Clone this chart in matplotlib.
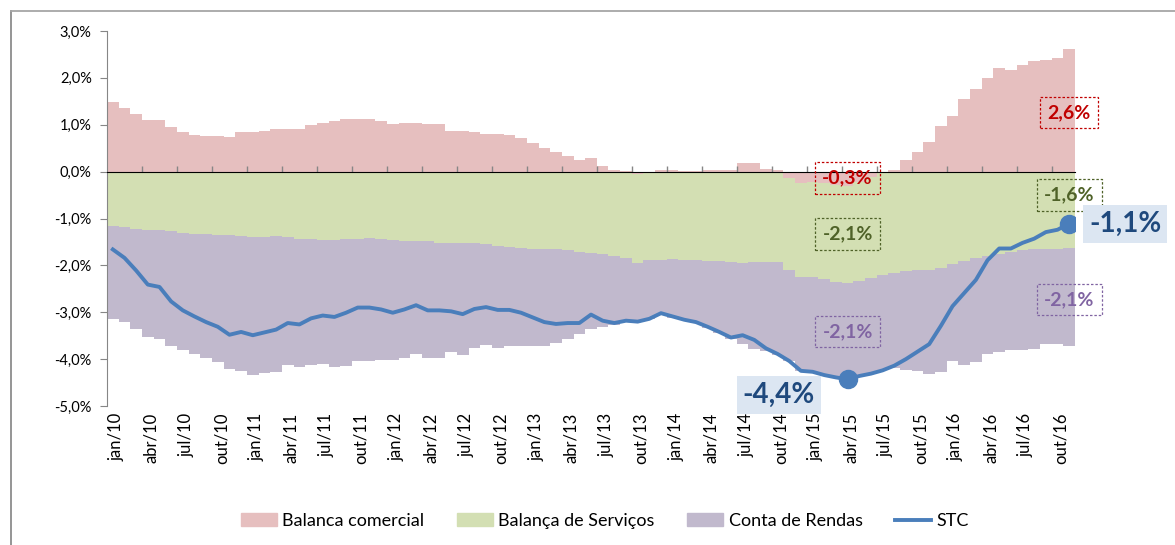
import numpy as np
import matplotlib
matplotlib.use('Agg')
import matplotlib.pyplot as plt
from matplotlib.patches import Patch
from matplotlib.lines import Line2D

# monthly, jan/10 .. nov/16, % of GDP
meses = ['jan', 'fev', 'mar', 'abr', 'mai', 'jun', 'jul', 'ago', 'set', 'out', 'nov', 'dez']
n_meses = 83

balanca_comercial = [
    1.48, 1.36, 1.24, 1.11, 1.11, 0.96, 0.84, 0.79, 0.76, 0.76, 0.73, 0.84,
    0.84, 0.87, 0.90, 0.90, 0.90, 0.99, 1.04, 1.07, 1.13, 1.13, 1.13, 1.07,
    1.01, 1.04, 1.04, 1.01, 1.01, 0.87, 0.87, 0.84, 0.81, 0.81, 0.78, 0.72,
    0.61, 0.50, 0.41, 0.33, 0.24, 0.30, 0.13, 0.04, 0.01, -0.04, 0.00, 0.04,
    0.04, 0.01, 0.01, 0.03, 0.03, 0.03, 0.19, 0.19, 0.06, 0.03, -0.13, -0.25,
    -0.22, -0.25, -0.28, -0.30, -0.22, -0.12, 0.00, 0.04, 0.24, 0.41, 0.63, 0.98,
    1.18, 1.54, 1.76, 1.99, 2.21, 2.16, 2.28, 2.36, 2.39, 2.43, 2.62]

balanca_servicos = [
    -1.17, -1.19, -1.22, -1.24, -1.25, -1.27, -1.30, -1.32, -1.33, -1.35, -1.36, -1.38,
    -1.40, -1.40, -1.38, -1.40, -1.43, -1.43, -1.45, -1.46, -1.44, -1.44, -1.41, -1.44,
    -1.46, -1.48, -1.49, -1.49, -1.52, -1.52, -1.52, -1.52, -1.54, -1.58, -1.60, -1.63,
    -1.64, -1.66, -1.66, -1.68, -1.71, -1.73, -1.76, -1.79, -1.84, -1.91, -1.89, -1.89,
    -1.86, -1.89, -1.89, -1.90, -1.90, -1.93, -1.95, -1.93, -1.93, -1.93, -1.96, -1.99,
    -2.02, -2.04, -2.08, -2.08, -2.11, -2.14, -2.20, -2.16, -2.13, -2.10, -2.09, -2.05,
    -1.96, -1.91, -1.84, -1.79, -1.75, -1.71, -1.68, -1.66, -1.65, -1.64, -1.63]

conta_rendas = [
    -1.97, -2.01, -2.13, -2.28, -2.32, -2.46, -2.50, -2.56, -2.64, -2.72, -2.85, -2.88,
    -2.93, -2.90, -2.89, -2.73, -2.73, -2.69, -2.66, -2.71, -2.70, -2.59, -2.62, -2.57,
    -2.56, -2.50, -2.40, -2.48, -2.45, -2.33, -2.39, -2.25, -2.16, -2.18, -2.13, -2.10,
    -2.08, -2.05, -2.00, -1.88, -1.76, -1.62, -1.55, -1.48, -1.35, -1.25, -1.25, -1.17,
    -1.27, -1.28, -1.33, -1.44, -1.55, -1.64, -1.73, -1.85, -1.90, -1.99, -1.95, -2.01,
    -2.03, -2.05, -2.03, -2.07, -2.03, -2.05, -2.04, -2.02, -2.11, -2.15, -2.22, -2.22,
    -2.09, -2.22, -2.23, -2.09, -2.10, -2.09, -2.12, -2.13, -2.03, -2.03, -2.10]

stc = [
    -1.66, -1.84, -2.11, -2.41, -2.46, -2.77, -2.96, -3.09, -3.21, -3.31, -3.48, -3.42,
    -3.49, -3.43, -3.37, -3.23, -3.26, -3.13, -3.07, -3.10, -3.01, -2.90, -2.90, -2.94,
    -3.01, -2.94, -2.85, -2.96, -2.96, -2.98, -3.04, -2.93, -2.89, -2.95, -2.95, -3.01,
    -3.11, -3.21, -3.25, -3.23, -3.23, -3.05, -3.18, -3.23, -3.18, -3.20, -3.14, -3.02,
    -3.09, -3.16, -3.21, -3.31, -3.42, -3.54, -3.49, -3.59, -3.77, -3.89, -4.04, -4.25,
    -4.27, -4.34, -4.39, -4.43, -4.36, -4.31, -4.24, -4.14, -4.00, -3.84, -3.68, -3.29,
    -2.87, -2.59, -2.31, -1.89, -1.64, -1.64, -1.52, -1.43, -1.29, -1.24, -1.11]

C_ROSA = '#E6BFBF'
C_VERDE = '#D3DFB3'
C_ROXO = '#C1B9CD'
C_LINHA = '#4A7EBB'
C_EIXO = '#868686'

plt.rcParams['font.family'] = ['Lato', 'DejaVu Sans']


def pct(v):
    return f'{v:.1f}%'.replace('.', ',')


x = np.arange(n_meses)
edges = np.arange(n_meses + 1) - 0.5
bc = np.array(balanca_comercial)
bs = np.array(balanca_servicos)
cr = np.array(conta_rendas)

fig = plt.figure(figsize=(11.75, 5.45), dpi=100)
# chart frame: only left and top edges show
fig.add_artist(Line2D([10.5 / 1175, 10.5 / 1175], [0, 1 - 11 / 545], transform=fig.transFigure,
                      color='#8C8C8C', linewidth=1.3))
fig.add_artist(Line2D([10.5 / 1175, 1], [1 - 11 / 545, 1 - 11 / 545], transform=fig.transFigure,
                      color='#A6A6A6', linewidth=1.3))
ax = fig.add_axes([107 / 1175, 1 - 406 / 545, (1075 - 107) / 1175, (406 - 31) / 545])

# excel-like stacking: negatives pile up below zero
base_neg = np.minimum(bc, 0)
ax.stairs(bc, edges, baseline=0, fill=True, color=C_ROSA, linewidth=0)
ax.stairs(base_neg + bs, edges, baseline=base_neg, fill=True, color=C_VERDE, linewidth=0)
ax.stairs(base_neg + bs + cr, edges, baseline=base_neg + bs, fill=True, color=C_ROXO, linewidth=0)

ax.plot(x, stc, color=C_LINHA, linewidth=2.8, solid_joinstyle='round', zorder=5)
i_min = int(np.argmin(stc))
i_fim = n_meses - 1
for i in (i_min, i_fim):
    ax.plot(x[i], stc[i], 'o', color=C_LINHA, markersize=13, zorder=6)

ax.set_xlim(-0.5, n_meses - 0.5)
ax.set_ylim(-5, 3)
yt = np.arange(-5, 3.1, 1)
ax.set_yticks(yt)
ax.set_yticklabels([pct(v) for v in yt], fontsize=10.5)
ax.tick_params(axis='y', direction='out', length=5, color=C_EIXO, pad=6)
for s in ('top', 'right', 'bottom'):
    ax.spines[s].set_visible(False)
ax.spines['left'].set_color(C_EIXO)

# labels every 3 months at the bottom
lab_pos = x[::3]
ax.set_xticks(lab_pos + 0.3)
ax.set_xticklabels([f'{meses[i % 12]}/{10 + i // 12}' for i in lab_pos], rotation=90, fontsize=12)
ax.tick_params(axis='x', length=0, pad=5)

# category axis on the zero line
zero = ax.secondary_xaxis(5 / 8)
zero.set_xticks(edges[::3][1:])
zero.set_xticklabels([])
zero.tick_params(axis='x', direction='out', length=4, color=C_EIXO, width=1)
zero.spines['bottom'].set_color(C_EIXO)
zero.spines['bottom'].set_linewidth(1.5)
zero.set_zorder(4)


def caixa(xv, yv, txt, cor):
    ax.text(xv, yv, txt, color=cor, fontsize=14, fontweight='bold', ha='center', va='center',
            zorder=7, bbox=dict(boxstyle='square,pad=0.38', facecolor='none', edgecolor=cor,
                                linestyle=(0, (2, 1.5)), linewidth=0.9))


caixa(i_fim, 1.26, pct(bc[i_fim]), '#C00000')
caixa(i_fim, -0.50, pct(bs[i_fim]), '#4F6228')
caixa(i_fim, -2.73, pct(cr[i_fim]), '#8064A2')
caixa(i_min, -0.13, pct(bc[i_min]), '#C00000')
caixa(i_min, -1.33, pct(bs[i_min]), '#4F6228')
caixa(i_min, -3.41, pct(cr[i_min]), '#8064A2')

for xv, yv, i in ((i_min - 5.9, -4.76, i_min), (i_fim + 4.8, -1.12, i_fim)):
    ax.text(xv, yv, pct(stc[i]), color='#1F497D', fontsize=20,
            fontweight='bold', ha='center', va='center', zorder=8, clip_on=False,
            bbox=dict(boxstyle='square,pad=0.22', facecolor='#DCE6F2', edgecolor='none'))

handles = [Patch(color=C_ROSA), Patch(color=C_VERDE), Patch(color=C_ROXO),
           Line2D([], [], color=C_LINHA, linewidth=2.8)]
fig.legend(handles, ['Balanca comercial', 'Balança de Serviços', 'Conta de Rendas', 'STC'],
           loc='center', bbox_to_anchor=(605 / 1175, 1 - 521 / 545), ncol=4, frameon=False,
           fontsize=13, handlelength=2.0, handleheight=0.7, handletextpad=0.3, columnspacing=1.8)

fig.savefig('out.png', dpi=100)
